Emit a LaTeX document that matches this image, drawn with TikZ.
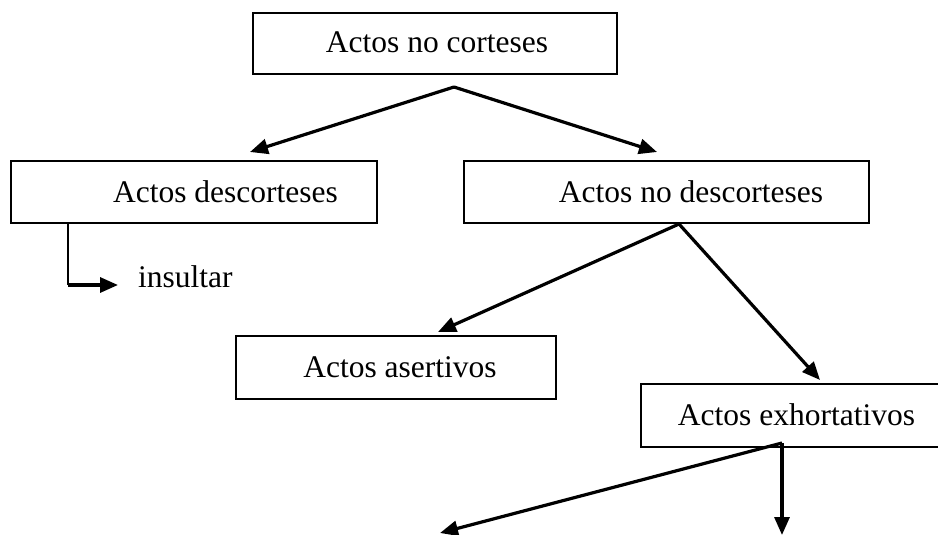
\documentclass[tikz,border=0pt]{standalone}
\usepackage{fontspec}
\setmainfont{Liberation Serif}
\usetikzlibrary{arrows.meta}
\begin{document}
\begin{tikzpicture}[x=1pt,y=-1pt,
  box/.style={draw, line width=2.6pt, inner sep=0pt},
  lbl/.style={font=\fontsize{31.5}{36}\selectfont, inner sep=0pt, anchor=base},
  conn/.style={line width=3.2pt, -{Triangle[length=18pt,width=15pt]}},
  plain/.style={line width=3pt}]
\useasboundingbox (0,0) rectangle (938,535);
\clip (0,0) rectangle (938,535);
% boxes
\node[box, minimum width=364pt, minimum height=61pt] (top) at (435,43.5) {};
\node[box, minimum width=366pt, minimum height=62pt] (desc) at (194,192) {};
\node[box, minimum width=405pt, minimum height=62pt] (nodesc) at (666.5,192) {};
\node[box, minimum width=320pt, minimum height=63pt] (aser) at (396,367.5) {};
\node[box, minimum width=400pt, minimum height=63pt] (exh) at (841,415.5) {};
% texts
\node[lbl] (topT) at (437,53) {Actos no corteses};
\node[lbl] (descT) at (225.5,202) {Actos descorteses};
\node[lbl] (nodescT) at (691,202) {Actos no descorteses};
\node[lbl] (aserT) at (400,377) {Actos asertivos};
\node[lbl] (exhT) at (796.5,425) {Actos exhortativos};
\node[lbl, anchor=base west] (insT) at (138,287) {insultar};
% connection points
\coordinate (topsplit) at (454,87);
\coordinate (tipL) at (250,152);
\coordinate (tipR) at (657,152);
\coordinate (ndsplit) at (679,224);
\coordinate (tipAser) at (438,332);
\coordinate (tipExh) at (820,380);
\coordinate (exsplit) at (782,443);
\coordinate (tipDL) at (440,533);
\coordinate (tipDD) at (782,535);
\coordinate (insTop) at (68,223);
\coordinate (insCorner) at (68,285);
\coordinate (tipIns) at (118,285);
% connectors
\draw[conn] (topsplit) -- (tipL);
\draw[conn] (topsplit) -- (tipR);
\draw[conn] (ndsplit) -- (tipAser);
\draw[conn] (ndsplit) -- (tipExh);
\draw[conn] (exsplit) -- (tipDL);
\draw[conn] (exsplit) -- (tipDD);
\draw[plain, line width=2.6pt] (insTop) -- (insCorner);
\draw[conn] (insCorner) -- (tipIns);
\end{tikzpicture}
\end{document}
